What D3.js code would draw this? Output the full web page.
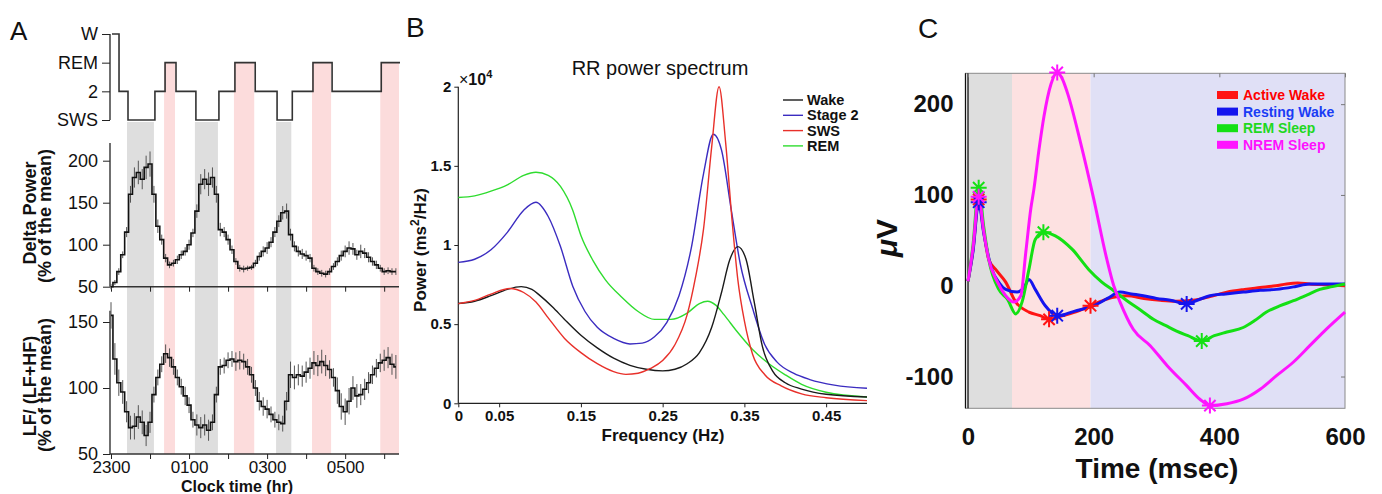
<!DOCTYPE html>
<html><head><meta charset="utf-8">
<script src="https://cdn.jsdelivr.net/npm/d3@7"></script>
<style>body{margin:0;background:#fff} svg{display:block}</style>
</head><body><svg id="c" width="1382" height="494"></svg>
<script>
// ---------- Panel A data ----------
const stageLevels = ["W","REM","2","SWS"];
const hypTimes  = [0,0.18,0.41,1.10,1.36,1.64,2.15,2.74,3.15,3.67,4.23,4.62,5.15,5.64,6.90,7.38];
const hypStages = ["W","2","SWS","2","REM","2","SWS","2","REM","2","SWS","2","REM","2","REM","REM"];
const timeHours = [0,0.1,0.2,0.3,0.4,0.5,0.6,0.7,0.8,0.9,1.0,1.1,1.2,1.3,1.4,1.5,1.6,1.7,1.8,1.9,2.0,2.1,2.2,2.3,2.4,2.5,2.6,2.7,2.8,2.9,3.0,3.1,3.2,3.3,3.4,3.5,3.6,3.7,3.8,3.9,4.0,4.1,4.2,4.3,4.4,4.5,4.6,4.7,4.8,4.9,5.0,5.1,5.2,5.3,5.4,5.5,5.6,5.7,5.8,5.9,6.0,6.1,6.2,6.3,6.4,6.5,6.6,6.7,6.8,6.9,7.0,7.1,7.2,7.3];
const deltaMean = [50,55,68,88,115,160,180,186,178,192,196,160,122,106,84,76,78,82,88,92,100,114,140,172,178,172,180,160,118,115,106,94,80,72,71,72,73,78,86,92,96,103,115,128,138,140,112,98,92,89,87,84,72,68,66,65,68,74,80,87,92,96,95,88,92,90,85,80,76,72,68,69,68,68];
const deltaErr  = [3,3,4,4,6,10,12,14,12,14,15,10,8,6,5,4,4,5,5,5,6,5,8,12,12,14,12,10,8,6,6,5,4,4,4,3,3,4,5,6,7,6,6,7,8,9,7,6,6,6,6,5,4,4,4,4,4,4,5,6,7,8,7,6,8,6,6,5,5,4,4,4,4,4];
const lfMean    = [155,122,104,97,82,70,71,78,74,64,74,95,108,118,126,123,116,108,101,94,87,76,72,70,72,68,74,95,116,117,121,122,120,121,120,116,110,100,90,86,84,80,76,74,73,90,110,108,110,109,112,115,119,117,120,117,114,108,98,86,82,90,100,94,95,99,104,110,115,119,121,123,118,116];
const lfErr     = [10,12,10,9,8,9,10,9,9,8,8,6,6,6,7,7,6,6,6,7,6,6,8,8,8,8,6,6,6,6,6,6,7,7,6,6,6,6,7,7,7,6,6,6,6,7,10,9,8,8,8,8,9,8,9,8,7,7,10,10,10,10,9,9,8,8,8,7,7,7,8,8,8,9];
const clockTickHours  = [0,1,2,3,4,5,6,7];
const clockLabelHours = [0,2,4,6];
const clockLabels     = ["2300","0100","0300","0500"];
const deltaTicks = [50,100,150,200];
const lfTicks    = [50,100,150];

// ---------- Panel B data ----------
const specNames  = ["Wake","Stage 2","SWS","REM"];
const specColors = ["#1a1a1a","#3b2cc0","#e8302a","#2fdc2f"];
const wakeSpec = [[0,0.63],[0.02,0.645],[0.04,0.68],[0.06,0.72],[0.077,0.737],[0.09,0.72],[0.1,0.68],[0.115,0.61],[0.13,0.53],[0.15,0.43],[0.17,0.35],[0.19,0.285],[0.21,0.24],[0.23,0.215],[0.25,0.205],[0.265,0.215],[0.28,0.25],[0.295,0.32],[0.31,0.48],[0.322,0.70],[0.332,0.905],[0.342,0.99],[0.352,0.91],[0.362,0.64],[0.372,0.36],[0.385,0.2],[0.4,0.13],[0.42,0.09],[0.45,0.057],[0.5,0.04]];
const stage2Spec = [[0,0.89],[0.02,0.91],[0.04,0.97],[0.06,1.08],[0.08,1.22],[0.095,1.27],[0.11,1.18],[0.125,0.99],[0.14,0.74],[0.155,0.58],[0.17,0.48],[0.19,0.41],[0.21,0.375],[0.225,0.38],[0.24,0.42],[0.255,0.51],[0.27,0.68],[0.285,0.98],[0.30,1.45],[0.312,1.70],[0.322,1.60],[0.334,1.22],[0.345,0.88],[0.36,0.60],[0.375,0.37],[0.39,0.26],[0.41,0.19],[0.43,0.15],[0.46,0.115],[0.5,0.095]];
const swsSpec = [[0,0.63],[0.02,0.65],[0.04,0.69],[0.063,0.725],[0.08,0.70],[0.095,0.64],[0.11,0.54],[0.13,0.41],[0.15,0.32],[0.17,0.25],[0.19,0.20],[0.205,0.183],[0.22,0.19],[0.235,0.22],[0.25,0.27],[0.265,0.37],[0.28,0.56],[0.29,0.79],[0.30,1.10],[0.31,1.62],[0.319,2.0],[0.327,1.65],[0.335,1.15],[0.342,0.78],[0.35,0.52],[0.36,0.31],[0.375,0.18],[0.395,0.11],[0.42,0.06],[0.45,0.035],[0.5,0.017]];
const remSpec = [[0,1.30],[0.02,1.31],[0.04,1.34],[0.06,1.38],[0.08,1.44],[0.095,1.46],[0.11,1.44],[0.125,1.37],[0.14,1.22],[0.15,1.06],[0.165,0.90],[0.18,0.78],[0.2,0.67],[0.22,0.58],[0.24,0.53],[0.26,0.53],[0.28,0.57],[0.295,0.63],[0.305,0.645],[0.315,0.62],[0.325,0.56],[0.34,0.46],[0.36,0.34],[0.38,0.25],[0.40,0.18],[0.42,0.12],[0.45,0.07],[0.5,0.04]];
const freqTicks  = [0,0.05,0.15,0.25,0.35,0.45];
const powerTicks = [0,0.5,1,1.5,2];

// ---------- Panel C data ----------
const erpNames  = ["Active Wake","Resting Wake","REM Sleep","NREM Sleep"];
const erpColors = ["#ff1414","#1414ee","#14e014","#ff14ff"];
const erpText   = ["#ff0000","#1a3cf5","#1fd81f","#ff10ff"];
const activeWake  = [[0,5],[8,40],[17,95],[25,60],[33,29],[44,18],[60,4],[76,-18],[97,-29],[115,-33],[129,-37],[150,-33],[175,-28],[195,-22],[212,-17],[229,-13],[253,-11],[280,-14],[306,-16],[330,-17],[358,-16],[385,-12],[412,-7],[440,-4],[465,-2],[490,0],[507,2],[525,3],[543,2],[570,1],[600,0]];
const restingWake = [[0,5],[8,38],[17,92],[25,58],[38,18],[50,3],[60,-4],[78,-7],[89,-2],[97,7],[107,-4],[123,-22],[142,-33],[170,-28],[200,-22],[222,-14],[242,-7],[260,-9],[279,-11],[300,-14],[322,-16],[348,-20],[365,-16],[385,-11],[410,-9],[438,-7],[465,-5],[491,-4],[520,-1],[543,2],[570,2],[600,2]];
const remSleep    = [[0,5],[8,45],[17,108],[25,65],[33,29],[49,-4],[63,-15],[76,-31],[86,-18],[97,18],[107,51],[120,59],[139,55],[166,40],[192,18],[213,4],[232,-5.5],[253,-16.5],[275,-27],[295,-37],[315,-44],[332,-50],[350,-55],[372,-61],[392,-55],[412,-51],[438,-46],[457,-38],[475,-29],[497,-22],[518,-16.5],[540,-10],[560,-4],[580,-1],[600,2]];
const nremSleep   = [[0,5],[8,42],[17,98],[25,60],[33,29],[47,4],[60,-11],[73,-18],[84,-11],[92,37],[100,85],[105,107],[113,150],[121,187],[132,222],[142,235],[150,228],[158,213],[179,158],[200,96],[221,29],[232,0],[242,-18],[263,-48],[290,-66],[317,-88],[348,-110],[369,-125],[385,-132],[412,-130],[438,-125],[465,-114],[491,-99],[518,-84],[544,-66],[570,-48],[600,-29]];
const activeMarks  = [[17,95],[129,-37],[195,-22]];
const restingMarks = [[17,92],[142,-33],[348,-20]];
const remMarks     = [[17,108],[120,59],[372,-61]];
const nremMarks    = [[17,98],[142,235],[385,-132]];
const bgStarts = [0,70,195];
const bgEnds   = [70,195,600];
const bgColors = ["#dedede","#fde1e1","#e0e0f6"];
const msTicks = [0,200,400,600];
const uvTicks = [-100,0,100,200];

// ---------- drawing ----------
const F = '"Liberation Sans", Arial, Helvetica, sans-serif';
const svg = d3.select("#c");
svg.append("rect").attr("width",1382).attr("height",494).attr("fill","#fff");
function label(x,y,s,size,opt={}){
  const t = svg.append("text").attr("x",x).attr("y",y).text(s)
    .attr("font-family",F).attr("font-size",size)
    .attr("font-weight",opt.bold?"bold":"normal")
    .attr("text-anchor",opt.anchor||"start").attr("fill",opt.fill||"#111");
  if(opt.rot) t.attr("transform",`rotate(-90,${x},${y})`);
  return t;
}
function styleAxis(g,size,bold){
  g.attr("font-family",F).attr("font-size",size).attr("font-weight",bold?"bold":"normal");
  g.selectAll("text").attr("fill","#111");
  g.selectAll("line").attr("stroke","#222");
  g.select(".domain").remove();
}

// ===== Panel A =====
const xA = d3.scaleLinear().domain([0,7.38]).range([111,399]);
const yH = d3.scalePoint().domain(stageLevels).range([34,120]);
const yD = d3.scaleLinear().domain([50,200]).range([286.7,160.7]);
const yL = d3.scaleLinear().domain([50,150]).range([454,322]);
const bottomA = 454;
for(let i=0;i<hypStages.length-1;i++){
  const s = hypStages[i];
  if(s!=="SWS" && s!=="REM") continue;
  const top = s==="SWS" ? yH("SWS")+2 : yH("REM");
  svg.append("rect").attr("x",xA(hypTimes[i])).attr("width",xA(hypTimes[i+1])-xA(hypTimes[i]))
    .attr("y",top).attr("height",bottomA-top)
    .attr("fill", s==="SWS" ? "#dedede" : "#fcdcdc");
}
const hypData = hypTimes.map((t,i)=>({t, s:hypStages[i]}));
svg.append("path").datum(hypData)
  .attr("d", d3.line().x(d=>xA(d.t)+1).y(d=>yH(d.s)).curve(d3.curveStepAfter))
  .attr("fill","none").attr("stroke","#333").attr("stroke-width",1.6);
svg.append("line").attr("x1",110).attr("x2",110).attr("y1",yH("W")).attr("y2",yH("SWS")).attr("stroke","#333").attr("stroke-width",1.4);
const gH = svg.append("g").attr("transform","translate(110,0)")
  .call(d3.axisLeft(yH).tickSize(8).tickPadding(4));
styleAxis(gH,18,false);

const gD = svg.append("g").attr("transform","translate(110,0)")
  .call(d3.axisLeft(yD).tickValues(deltaTicks).tickSize(7).tickPadding(5));
styleAxis(gD,18,false);
svg.append("line").attr("x1",110).attr("x2",110).attr("y1",143).attr("y2",yD(50)).attr("stroke","#333").attr("stroke-width",1.4);
svg.append("line").attr("x1",110).attr("x2",399).attr("y1",yD(50)).attr("y2",yD(50)).attr("stroke","#333").attr("stroke-width",1.4);
const gDx = svg.append("g").attr("transform",`translate(0,${yD(50)})`)
  .call(d3.axisBottom(xA).tickValues(clockTickHours).tickSize(5).tickFormat(""));
styleAxis(gDx,18,false);

function trace(mean, err, y){
  const g = svg.append("g");
  mean.forEach((m,i)=>{
    g.append("line").attr("x1",xA(timeHours[i])).attr("x2",xA(timeHours[i]))
      .attr("y1",y(m-err[i])).attr("y2",y(m+err[i])).attr("stroke","#555").attr("stroke-width",1);
  });
  g.append("path").datum(mean)
    .attr("d", d3.line().x((d,i)=>xA(timeHours[i])).y(d=>y(d)).curve(d3.curveStep))
    .attr("fill","none").attr("stroke","#111").attr("stroke-width",1.6);
}
trace(deltaMean, deltaErr, yD);

const gL = svg.append("g").attr("transform","translate(110,0)")
  .call(d3.axisLeft(yL).tickValues(lfTicks).tickSize(7).tickPadding(5));
styleAxis(gL,18,false);
svg.append("line").attr("x1",110).attr("x2",110).attr("y1",310.7).attr("y2",yL(50)).attr("stroke","#333").attr("stroke-width",1.4);
svg.append("line").attr("x1",110).attr("x2",399).attr("y1",yL(50)).attr("y2",yL(50)).attr("stroke","#333").attr("stroke-width",1.4);
const gLx = svg.append("g").attr("transform",`translate(0,${yL(50)})`)
  .call(d3.axisBottom(xA).tickValues(clockTickHours).tickSize(5).tickPadding(2)
        .tickFormat(h=>{const k=clockLabelHours.indexOf(h); return k>=0?clockLabels[k]:"";}));
styleAxis(gLx,17,false);
trace(lfMean, lfErr, yL);

label(10,40,"A",26);
label(36,213,"Delta Power",18,{bold:true,anchor:"middle",rot:true});
label(51,216,"(% of the mean)",18,{bold:true,anchor:"middle",rot:true});
label(36,386,"LF/ (LF+HF)",18,{bold:true,anchor:"middle",rot:true});
label(51,385,"(% of the mean)",18,{bold:true,anchor:"middle",rot:true});
label(237,492,"Clock time (hr)",16,{bold:true,anchor:"middle"});

// ===== Panel B =====
const xB = d3.scaleLinear().domain([0,0.5]).range([458.3,867]);
const yB = d3.scaleLinear().domain([0,2]).range([403.3,86.7]);
svg.append("line").attr("x1",458.3).attr("x2",458.3).attr("y1",yB(2)).attr("y2",yB(0)).attr("stroke","#222").attr("stroke-width",1.2);
svg.append("line").attr("x1",458.3).attr("x2",867).attr("y1",yB(0)).attr("y2",yB(0)).attr("stroke","#222").attr("stroke-width",1.2);
const gBy = svg.append("g").attr("transform","translate(458.3,0)")
  .call(d3.axisLeft(yB).tickValues(powerTicks).tickSize(4).tickPadding(3).tickFormat(d3.format("~g")));
styleAxis(gBy,15,true);
const gBx = svg.append("g").attr("transform",`translate(0,${yB(0)})`)
  .call(d3.axisBottom(xB).tickValues(freqTicks).tickSize(4).tickPadding(3).tickFormat(d3.format("~g")));
styleAxis(gBx,15,true);
const specSeries = [wakeSpec, stage2Spec, swsSpec, remSpec];
const lineB = d3.line().x(d=>xB(d[0])).y(d=>yB(d[1])).curve(d3.curveMonotoneX);
[3,1,0,2].forEach(k=>{
  svg.append("path").datum(specSeries[k]).attr("d",lineB)
    .attr("fill","none").attr("stroke",specColors[k]).attr("stroke-width",1.4);
});
specNames.forEach((n,i)=>{
  const y = 100 + i*15.3;
  svg.append("line").attr("x1",783).attr("x2",803).attr("y1",y).attr("y2",y).attr("stroke",specColors[i]).attr("stroke-width",1.4);
  label(807,y+5,n,14.5,{bold:true});
});
label(406,37,"B",28);
label(660,75,"RR power spectrum",20,{anchor:"middle"});
label(663,441,"Frequency (Hz)",17,{bold:true,anchor:"middle"});
const xt = svg.append("text").attr("x",459).attr("y",85).attr("font-family",F).attr("fill","#111");
xt.append("tspan").attr("font-size",16).text("×");
xt.append("tspan").attr("font-size",16).attr("font-weight","bold").text("10");
xt.append("tspan").attr("font-size",11).attr("font-weight","bold").attr("dy",-7).text("4");
const pl = svg.append("text").attr("x",426).attr("y",250).attr("text-anchor","middle")
  .attr("font-family",F).attr("font-size",17).attr("font-weight","bold").attr("fill","#111")
  .attr("transform","rotate(-90,426,250)");
pl.append("tspan").text("Power (ms");
pl.append("tspan").attr("font-size",12).attr("dy",-7).text("2");
pl.append("tspan").attr("dy",7).text("/Hz)");

// ===== Panel C =====
const xC = d3.scaleLinear().domain([0,600]).range([968,1345]);
const yC = d3.scaleLinear().domain([-135,234]).range([408.3,73.3]);
bgStarts.forEach((s,i)=>{
  svg.append("rect").attr("x",xC(s)).attr("width",xC(bgEnds[i])-xC(s))
    .attr("y",yC(234)).attr("height",yC(-135)-yC(234)).attr("fill",bgColors[i]);
});
svg.append("rect").attr("x",965.5).attr("y",yC(234)).attr("width",1345-965.5).attr("height",yC(-135)-yC(234))
  .attr("fill","none").attr("stroke","#8a8a8a").attr("stroke-width",1);
svg.append("line").attr("x1",965.5).attr("x2",965.5).attr("y1",yC(234)).attr("y2",yC(-135)).attr("stroke","#111").attr("stroke-width",1.3);
svg.append("line").attr("x1",xC(0)).attr("x2",xC(0)).attr("y1",yC(234)).attr("y2",yC(-135)).attr("stroke","#111").attr("stroke-width",1.3);
const gCy = svg.append("g").attr("transform","translate(965.5,0)")
  .call(d3.axisLeft(yC).tickValues(uvTicks).tickSize(0).tickPadding(12).tickFormat(d=>String(d)));
styleAxis(gCy,24,true);
const gCyr = svg.append("g").attr("transform","translate(1345,0)")
  .call(d3.axisLeft(yC).tickValues(uvTicks).tickSize(4).tickFormat(""));
styleAxis(gCyr,10,false); gCyr.selectAll("line").attr("stroke","#777");
const gCxt = svg.append("g").attr("transform",`translate(0,${yC(234)})`)
  .call(d3.axisBottom(xC).tickValues(msTicks).tickSize(4).tickFormat(""));
styleAxis(gCxt,10,false); gCxt.selectAll("line").attr("stroke","#777");
const gCx = svg.append("g").attr("transform",`translate(0,${yC(-135)})`)
  .call(d3.axisBottom(xC).tickValues(msTicks).tickSize(0).tickPadding(20).tickFormat(d=>String(d)));
styleAxis(gCx,24,true);
const erpSeries = [activeWake, restingWake, remSleep, nremSleep];
const erpMarks  = [activeMarks, restingMarks, remMarks, nremMarks];
const lineC = d3.line().x(d=>xC(d[0])).y(d=>yC(d[1])).curve(d3.curveMonotoneX);
erpSeries.forEach((s,i)=>{
  svg.append("path").datum(s).attr("d",lineC).attr("fill","none")
    .attr("stroke",erpColors[i]).attr("stroke-width",3).attr("stroke-linejoin","round");
});
function star(cx,cy,r){
  const a=r*0.707;
  return `M${cx-r},${cy}L${cx+r},${cy}M${cx},${cy-r}L${cx},${cy+r}M${cx-a},${cy-a}L${cx+a},${cy+a}M${cx-a},${cy+a}L${cx+a},${cy-a}`;
}
erpMarks.forEach((m,i)=>{
  m.forEach(p=>{
    svg.append("path").attr("d",star(xC(p[0]),yC(p[1]),8)).attr("stroke",erpColors[i]).attr("stroke-width",2);
  });
});
erpNames.forEach((n,i)=>{
  const y = 95 + i*16.6;
  svg.append("rect").attr("x",1217).attr("y",y-4).attr("width",21).attr("height",8).attr("fill",erpColors[i]);
  label(1243,y+5,n,14,{bold:true,fill:erpText[i]});
});
label(918,38,"C",28);
label(1157,478,"Time (msec)",28,{bold:true,anchor:"middle"});
const uv = svg.append("text").attr("x",897).attr("y",238).attr("text-anchor","middle")
  .attr("font-family",F).attr("font-size",30).attr("font-weight","bold").attr("fill","#111")
  .attr("transform","rotate(-90,897,238)");
uv.append("tspan").attr("font-style","italic").text("μ");
uv.append("tspan").text("V");
</script></body></html>
